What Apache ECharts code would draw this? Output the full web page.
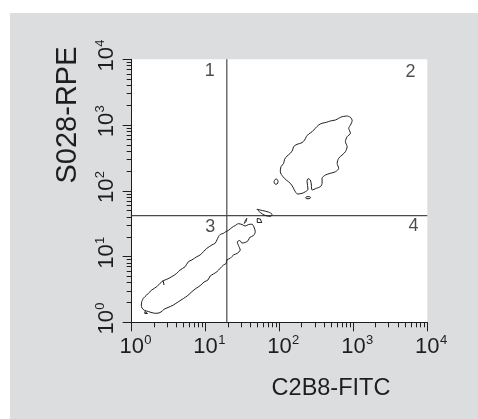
<!DOCTYPE html>
<html>
<head>
<meta charset="utf-8">
<script src="https://cdn.jsdelivr.net/npm/echarts@6/dist/echarts.min.js"></script>
<style>
  html, body { margin: 0; padding: 0; background: #ffffff; }
  #panel { position: absolute; left: 10px; top: 13px; width: 468px; height: 406px; background: #dcdddf; }
  #chart { position: absolute; left: 0; top: 0; width: 478px; height: 419px; }
</style>
</head>
<body>
<div id="panel"></div>
<div id="chart"></div>
<script>
// Both axes are logarithmic, so every coordinate below is a decade (log10 of intensity).
const decadeExponents = [0, 1, 2, 3, 4];
const minorMultipliers = [2, 3, 4, 5, 6, 7, 8, 9];
const xAxisTitle = 'C2B8-FITC';
const yAxisTitle = 'S028-RPE';

// Quadrant gate position (decades)
const gateX = 1.287;
const gateY = 1.622;

// Quadrant numbers and where they sit (decades)
const quadrantNames = ['1', '2', '3', '4'];
const quadrantLabelX = [1.055, 3.774, 1.062, 3.814];
const quadrantLabelY = [3.817, 3.807, 1.454, 1.457];

// Upper population contour [log FITC, log RPE]
const upperContour = [
  [2.915, 3.138], [2.960, 3.118], [2.983, 3.066], [2.960, 3.001], [2.937, 2.951],
  [2.960, 2.875], [2.915, 2.823], [2.892, 2.747], [2.915, 2.671], [2.892, 2.595],
  [2.847, 2.544], [2.801, 2.494], [2.780, 2.418], [2.801, 2.342], [2.757, 2.290],
  [2.689, 2.266], [2.621, 2.240], [2.576, 2.190], [2.576, 2.114], [2.553, 2.062],
  [2.499, 2.038], [2.441, 2.012], [2.431, 2.088], [2.418, 2.164], [2.386, 2.184],
  [2.373, 2.138], [2.386, 2.023], [2.350, 1.986], [2.305, 1.962], [2.245, 1.951],
  [2.214, 1.986], [2.183, 2.053], [2.146, 2.114], [2.092, 2.164], [2.047, 2.214],
  [2.011, 2.290], [2.020, 2.367], [2.056, 2.418], [2.069, 2.479], [2.102, 2.529],
  [2.146, 2.570], [2.178, 2.621], [2.191, 2.671], [2.237, 2.707], [2.305, 2.732],
  [2.340, 2.773], [2.363, 2.823], [2.395, 2.864], [2.441, 2.899], [2.485, 2.951],
  [2.530, 3.001], [2.576, 3.027], [2.635, 3.042], [2.689, 3.062], [2.757, 3.077],
  [2.801, 3.103], [2.847, 3.127]
];

// Lower (diagonal) population contour
const lowerContour = [
  [0.136, 0.313], [0.157, 0.365], [0.203, 0.415], [0.271, 0.491], [0.339, 0.541],
  [0.384, 0.593], [0.428, 0.633], [0.475, 0.654], [0.542, 0.694], [0.610, 0.745],
  [0.655, 0.795], [0.723, 0.846], [0.767, 0.922], [0.814, 0.948], [0.881, 0.998],
  [0.926, 1.024], [0.971, 1.074], [1.017, 1.125], [1.085, 1.176], [1.129, 1.202],
  [1.153, 1.252], [1.174, 1.302], [1.197, 1.335], [1.242, 1.354], [1.265, 1.373],
  [1.310, 1.399], [1.356, 1.442], [1.401, 1.472], [1.445, 1.500], [1.492, 1.487],
  [1.536, 1.465], [1.581, 1.487], [1.627, 1.492], [1.652, 1.454], [1.672, 1.378],
  [1.649, 1.320], [1.597, 1.290], [1.577, 1.244], [1.536, 1.214], [1.492, 1.206],
  [1.462, 1.244], [1.428, 1.221], [1.445, 1.168], [1.468, 1.100], [1.428, 1.049],
  [1.378, 1.024], [1.333, 0.973], [1.288, 0.948], [1.279, 0.897], [1.242, 0.871],
  [1.197, 0.821], [1.153, 0.770], [1.106, 0.735], [1.062, 0.704], [1.031, 0.643],
  [0.980, 0.613], [0.926, 0.557], [0.872, 0.517], [0.814, 0.465], [0.759, 0.408],
  [0.700, 0.362], [0.632, 0.313], [0.564, 0.263], [0.492, 0.225], [0.438, 0.198],
  [0.397, 0.157], [0.343, 0.137], [0.293, 0.141], [0.225, 0.164], [0.171, 0.183],
  [0.140, 0.217], [0.130, 0.263]
];

// Small satellite contours
const islandA = [[1.925, 2.138], [1.940, 2.170], [1.960, 2.178], [1.980, 2.140], [1.968, 2.104], [1.945, 2.100]];
const islandB = [[2.352, 1.895], [2.372, 1.910], [2.405, 1.911], [2.420, 1.895], [2.400, 1.880], [2.368, 1.880]];
const islandC = [[1.695, 1.719], [1.767, 1.700], [1.848, 1.678], [1.898, 1.643], [1.882, 1.612], [1.807, 1.624], [1.740, 1.670]];
const islandD = [[1.523, 1.503], [1.537, 1.545], [1.557, 1.582], [1.550, 1.540]];
const islandE = [[1.699, 1.579], [1.740, 1.571], [1.760, 1.518], [1.699, 1.518]];
const islandF = [[0.178, 0.134], [0.214, 0.134], [0.214, 0.164], [0.178, 0.164]];
const notchMark = [[0.424, 0.636], [0.438, 0.567]];

const FONT = '"Liberation Sans", Arial, Helvetica, sans-serif';
const INK = '#1e1e1e';

const minorTickValues = [];
decadeExponents.slice(0, -1).forEach(function (k) {
  minorMultipliers.forEach(function (m) { minorTickValues.push(k + Math.log10(m)); });
});

function closeRing(pts) { return pts.concat([pts[0]]); }

function contourSeries(pts, closed, smooth) {
  return {
    type: 'line',
    data: closed ? closeRing(pts) : pts,
    symbol: 'none',
    smooth: smooth,
    silent: true,
    animation: false,
    lineStyle: { color: INK, width: 1 },
    z: 3
  };
}

const tickLabelRich = {
  p: { width: 8, fontSize: 13, fontFamily: FONT },
  b: { fontSize: 22, fontFamily: FONT, color: INK, lineHeight: 26 },
  s: { fontSize: 13, fontFamily: FONT, color: INK, verticalAlign: 'top', lineHeight: 13, width: 8 }
};
function decadeLabel(v) { return '{p|}{b|10}{s|' + Math.round(v) + '}'; }

const axisCommon = {
  type: 'value', min: 0, max: 4, interval: 1,
  splitLine: { show: false }
};

const chart = echarts.init(document.getElementById('chart'), null, { renderer: 'canvas' });

chart.setOption({
  backgroundColor: 'transparent',
  animation: false,
  grid: {
    left: 131.7, top: 59.3, right: 50.7, bottom: 96.7,
    show: true, backgroundColor: '#ffffff', borderWidth: 0
  },
  xAxis: [
    Object.assign({}, axisCommon, {
      position: 'bottom',
      axisLine: { show: true, onZero: false, lineStyle: { color: INK, width: 1 } },
      axisTick: { show: true, inside: false, length: 9, lineStyle: { color: INK, width: 1 } },
      axisLabel: { margin: 12, formatter: decadeLabel, rich: tickLabelRich }
    }),
    Object.assign({}, axisCommon, {
      position: 'bottom',
      axisLine: { show: false, onZero: false },
      axisTick: { show: true, inside: false, length: 5, customValues: minorTickValues, lineStyle: { color: INK, width: 1 } },
      axisLabel: { show: false }
    })
  ],
  yAxis: [
    Object.assign({}, axisCommon, {
      position: 'left',
      axisLine: { show: true, onZero: false, lineStyle: { color: INK, width: 1 } },
      axisTick: { show: true, inside: false, length: 9, lineStyle: { color: INK, width: 1 } },
      axisLabel: { margin: 12, rotate: 90, formatter: decadeLabel, rich: tickLabelRich }
    }),
    Object.assign({}, axisCommon, {
      position: 'left',
      axisLine: { show: false, onZero: false },
      axisTick: { show: true, inside: false, length: 5, customValues: minorTickValues, lineStyle: { color: INK, width: 1 } },
      axisLabel: { show: false }
    })
  ],
  graphic: [
    {
      type: 'text', x: 331, y: 388.5, silent: true,
      style: { text: xAxisTitle, font: '23.5px ' + FONT, fill: INK, align: 'center', verticalAlign: 'middle' }
    },
    {
      type: 'text', x: 67.5, y: 115, rotation: Math.PI / 2, silent: true,
      style: { text: yAxisTitle, font: '29px ' + FONT, fill: INK, align: 'center', verticalAlign: 'middle' }
    }
  ],
  series: [
    {
      type: 'line', data: [[gateX, 0], [gateX, 4]], symbol: 'none', silent: true,
      lineStyle: { color: '#4a4a4a', width: 1.2 }, z: 2
    },
    {
      type: 'line', data: [[0, gateY], [4, gateY]], symbol: 'none', silent: true,
      lineStyle: { color: '#4a4a4a', width: 1.2 }, z: 2
    },
    contourSeries(upperContour, true, 0.3),
    contourSeries(lowerContour, true, 0.3),
    contourSeries(islandA, true, 0.4),
    contourSeries(islandB, true, 0.4),
    contourSeries(islandC, true, 0.3),
    contourSeries(islandD, true, 0.3),
    contourSeries(islandE, true, 0),
    contourSeries(islandF, true, 0),
    contourSeries(notchMark, false, 0),
    {
      type: 'scatter',
      symbolSize: 0,
      silent: true,
      data: quadrantNames.map(function (n, i) {
        return { name: n, value: [quadrantLabelX[i], quadrantLabelY[i]] };
      }),
      label: {
        show: true, position: 'inside', formatter: '{b}',
        fontSize: 18, fontFamily: FONT, color: INK
      },
      z: 4
    }
  ]
});
</script>
</body>
</html>
